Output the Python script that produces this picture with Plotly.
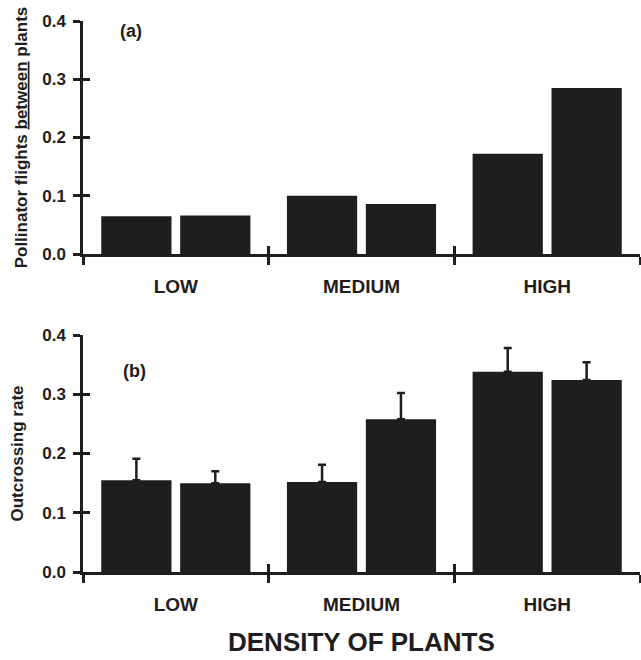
import plotly.graph_objects as go

# ---- data ----
categories = ["LOW", "MEDIUM", "HIGH"]
flights_s1 = [0.065, 0.100, 0.172]
flights_s2 = [0.066, 0.086, 0.285]
outcross_s1 = [0.155, 0.152, 0.338]
outcross_s2 = [0.150, 0.258, 0.324]
outcross_err_s1 = [0.036, 0.029, 0.040]
outcross_err_s2 = [0.020, 0.044, 0.030]
y_ticks = [0.0, 0.1, 0.2, 0.3, 0.4]

INK = "#1f1d1d"
FONT = "Liberation Sans, Arial, sans-serif"

fig = go.Figure()

def err(vals):
    return dict(type="data", symmetric=False, array=vals, arrayminus=[0] * len(vals),
                color=INK, thickness=2.5, width=4)

fig.add_trace(go.Bar(x=categories, y=flights_s1, name="Series 1", offsetgroup="1",
                     marker=dict(color=INK, line=dict(width=0)), xaxis="x", yaxis="y"))
fig.add_trace(go.Bar(x=categories, y=flights_s2, name="Series 2", offsetgroup="2",
                     marker=dict(color=INK, line=dict(width=0)), xaxis="x", yaxis="y"))
fig.add_trace(go.Bar(x=categories, y=outcross_s1, name="Series 1", offsetgroup="1",
                     error_y=err(outcross_err_s1),
                     marker=dict(color=INK, line=dict(width=0)), xaxis="x2", yaxis="y2"))
fig.add_trace(go.Bar(x=categories, y=outcross_s2, name="Series 2", offsetgroup="2",
                     error_y=err(outcross_err_s2),
                     marker=dict(color=INK, line=dict(width=0)), xaxis="x2", yaxis="y2"))

# invisible helper traces so the overlay axes (inside half of crossing ticks) render
for xa, ya in (("x3", "y3"), ("x4", "y4")):
    fig.add_trace(go.Scatter(x=categories, y=[None] * 3, mode="markers", xaxis=xa, yaxis=ya,
                             showlegend=False, hoverinfo="skip", marker=dict(opacity=0)))

tickfont = dict(family=FONT, size=17, color=INK, weight="bold")
catfont = dict(family=FONT, size=19, color=INK, weight="bold")

def xax(anchor, **kw):
    d = dict(anchor=anchor, type="category", categoryarray=categories, categoryorder="array",
             range=[-0.5, 2.5], domain=[0, 1], showline=True, linecolor=INK, linewidth=2.5,
             ticks="outside", ticklen=8, tickwidth=2.5, tickcolor=INK, tickson="boundaries",
             showgrid=False, zeroline=False, tickfont=catfont, ticklabelstandoff=13,
             fixedrange=True, automargin=False)
    d.update(kw)
    return d

def yax(anchor, domain, **kw):
    d = dict(anchor=anchor, domain=domain, range=[0, 0.4], tickvals=y_ticks,
             ticktext=[f"{v:.1f}" for v in y_ticks], showline=True, linecolor=INK,
             linewidth=2.5, ticks="outside", ticklen=7, tickwidth=2.5, tickcolor=INK,
             showgrid=False, zeroline=False, tickfont=tickfont, ticklabelstandoff=4,
             fixedrange=True, automargin=False)
    d.update(kw)
    return d

top_dom = [1 - 254 / 660, 1 - 21 / 660]
bot_dom = [1 - 572 / 660, 1 - 335 / 660]

fig.update_layout(
    width=641, height=660,
    margin=dict(l=83, r=1, t=0, b=0, autoexpand=False),
    paper_bgcolor="white", plot_bgcolor="white",
    showlegend=False,
    barmode="group", bargap=0.15, bargroupgap=0.11,
    font=dict(family=FONT, color=INK),
    xaxis=xax("y"),
    xaxis2=xax("y2"),
    yaxis=yax("x", top_dom,
              title=dict(text="Pollinator flights <span style='text-decoration:underline'>between</span> plants",
                         font=dict(family=FONT, size=17, color=INK, weight="bold"), standoff=11)),
    yaxis2=yax("x2", bot_dom,
               title=dict(text="Outcrossing rate",
                          font=dict(family=FONT, size=17, color=INK, weight="bold"), standoff=15)),
    xaxis3=xax("y3", overlaying="x", ticks="inside", showticklabels=False, showline=False),
    xaxis4=xax("y4", overlaying="x2", ticks="inside", showticklabels=False, showline=False),
    yaxis3=yax("x3", top_dom, overlaying="y", ticks="inside", showticklabels=False, showline=False),
    yaxis4=yax("x4", bot_dom, overlaying="y2", ticks="inside", showticklabels=False, showline=False),
    annotations=[
        dict(text="(a)", xref="x domain", yref="y domain", x=0.086, y=0.957,
             xanchor="center", yanchor="middle",
             showarrow=False, font=dict(family=FONT, size=18, color=INK, weight="bold")),
        dict(text="(b)", xref="x2 domain", yref="y2 domain", x=0.092, y=0.848,
             xanchor="center", yanchor="middle",
             showarrow=False, font=dict(family=FONT, size=18, color=INK, weight="bold")),
        dict(text="DENSITY OF PLANTS", xref="paper", yref="paper", x=0.5, y=2 / 660,
             xanchor="center", yanchor="bottom", showarrow=False, borderpad=0,
             font=dict(family=FONT, size=26, color=INK, weight="bold")),
    ],
)

fig.write_html("out.html", config={"displayModeBar": False},
               post_script="document.body.style.margin='0';document.body.style.overflow='hidden';")
